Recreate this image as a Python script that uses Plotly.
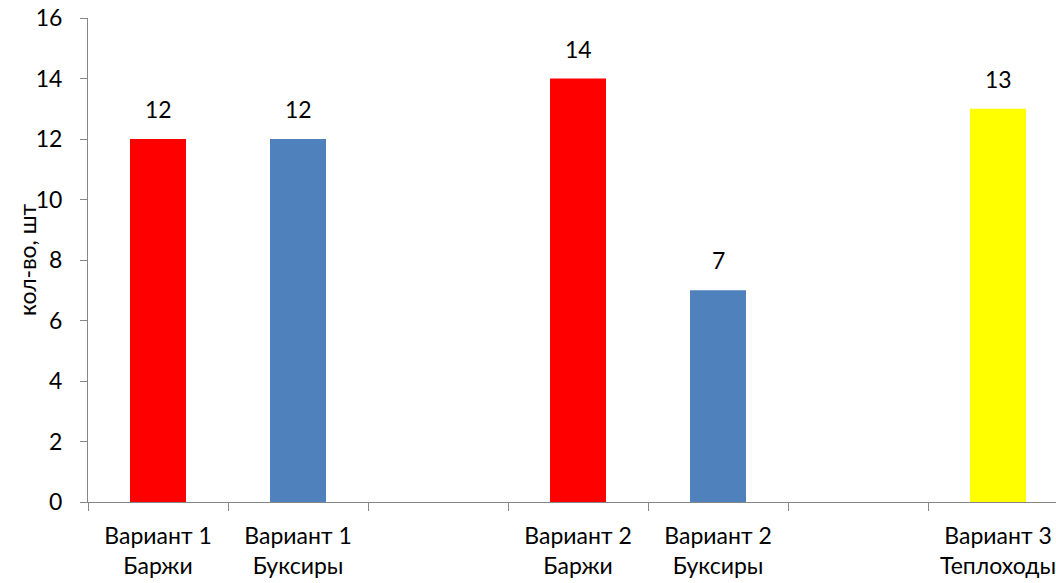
import plotly.graph_objects as go

# Categories along the x axis (blank slots separate the variants)
categories = ["Вариант 1<br>Баржи", "Вариант 1<br>Буксиры", " ",
              "Вариант 2<br>Баржи", "Вариант 2<br>Буксиры", "  ",
              "Вариант 3<br>Теплоходы"]
values = [12, 12, None, 14, 7, None, 13]
colors = ["#FF0000", "#4F81BD", "#FFFFFF", "#FF0000", "#4F81BD", "#FFFFFF", "#FFFF00"]
y_ticks = [0, 2, 4, 6, 8, 10, 12, 14, 16]
y_title = "кол-во, шт"

FONT = "Lato, Carlito, Calibri, sans-serif"
FONT_SIZE = 23
AXIS_COLOR = "#868686"
PLOT_LEFT, PLOT_WIDTH = 88, 968

fig = go.Figure()
fig.add_trace(go.Bar(
    x=categories,
    y=values,
    marker=dict(color=colors, line=dict(width=0)),
    width=0.4,
    hoverinfo="x+y",
))

# value labels above each bar
for cat, val in zip(categories, values):
    if val is None:
        continue
    fig.add_annotation(
        x=cat, y=val, xref="x", yref="y",
        text=str(val), showarrow=False,
        yanchor="bottom", yshift=14,
        font=dict(family=FONT, size=FONT_SIZE, color="#000000"),
    )

# vertical axis title, set close to the tick labels
fig.add_annotation(
    x=(27 - PLOT_LEFT) / PLOT_WIDTH, y=0.5, xref="paper", yref="paper",
    text=y_title, textangle=-90, showarrow=False,
    xanchor="center", yanchor="middle",
    font=dict(family=FONT, size=FONT_SIZE, color="#000000"),
)

fig.update_layout(
    width=1056, height=583,
    margin=dict(l=PLOT_LEFT, r=0, t=18, b=81),
    paper_bgcolor="#FFFFFF",
    plot_bgcolor="#FFFFFF",
    showlegend=False,
    bargap=0.6,
    font=dict(family=FONT, size=FONT_SIZE, color="#000000"),
)

fig.update_xaxes(
    type="category",
    categoryorder="array",
    categoryarray=categories,
    range=[-0.5, 6.414],
    tickson="boundaries",
    ticks="outside",
    ticklen=8,
    tickwidth=1,
    tickcolor=AXIS_COLOR,
    showline=True,
    linecolor=AXIS_COLOR,
    linewidth=1,
    showgrid=False,
    zeroline=False,
    tickfont=dict(family=FONT, size=FONT_SIZE, color="#000000"),
    ticklabelstandoff=13,
)

fig.update_yaxes(
    range=[0, 16],
    tickvals=y_ticks,
    ticks="outside",
    ticklen=7,
    tickwidth=1,
    tickcolor=AXIS_COLOR,
    showline=True,
    linecolor=AXIS_COLOR,
    linewidth=1,
    showgrid=False,
    zeroline=False,
    tickfont=dict(family=FONT, size=FONT_SIZE, color="#000000"),
    ticklabelstandoff=13,
)

fig.write_html("out.html")
